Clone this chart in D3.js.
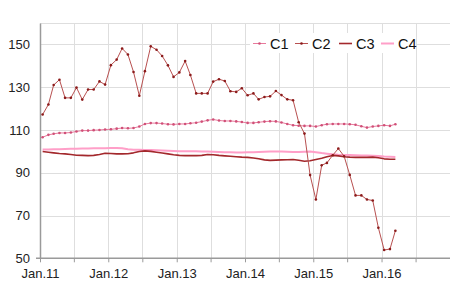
<!DOCTYPE html>
<html>
<head>
<meta charset="utf-8">
<script src="https://cdn.jsdelivr.net/npm/d3@7"></script>
<style>
  body { margin: 0; background: #fff; }
  svg { display: block; font-family: "Liberation Sans", Arial, sans-serif; }
</style>
</head>
<body>
<svg id="viz" width="450" height="291"></svg>
<script>
// monthly series, Jan 2011 .. Mar 2016
const startMonth = new Date(2011, 0, 1);
const c1 = [106.6, 107.7, 108.2, 108.6, 108.6, 108.8, 109.3, 109.7, 109.7, 109.9, 110.0, 110.2,
  110.3, 110.6, 110.9, 110.8, 110.9, 111.6, 112.8, 113.2, 113.2, 113.0, 112.7, 112.6,
  112.8, 112.8, 113.1, 113.4, 113.9, 114.5, 114.9, 114.4, 114.2, 114.2, 114.0, 113.7,
  113.3, 113.3, 113.6, 113.9, 114.1, 114.0, 113.5, 112.8, 112.2, 112.0, 111.9, 111.9,
  111.6, 112.2, 112.7, 112.8, 112.8, 112.8, 112.7, 112.4, 111.7, 111.1, 111.6, 111.9,
  112.2, 111.9, 112.7];
const c2 = [117.2, 121.9, 131.0, 133.5, 125.0, 125.0, 129.8, 124.2, 128.9, 128.9, 132.7, 131.2,
  140.3, 142.9, 148.1, 145.3, 137.1, 126.0, 137.5, 149.1, 147.5, 144.6, 140.2, 134.8,
  136.9, 142.2, 135.7, 127.1, 127.1, 127.1, 132.6, 133.7, 132.9, 128.1, 127.8, 129.5,
  126.2, 127.1, 124.3, 125.4, 125.7, 128.2, 126.3, 124.3, 123.9, 113.6, 108.3, 88.9,
  77.5, 93.5, 94.6, 98.2, 101.3, 97.7, 89.0, 79.4, 79.4, 77.5, 77.0, 64.3,
  53.9, 54.3, 62.9];
const c3 = [99.9, 99.6, 99.3, 99.0, 98.8, 98.5, 98.2, 98.1, 98.0, 98.1, 98.5, 99.1,
  99.0, 98.8, 98.8, 98.9, 99.3, 99.9, 100.2, 100.0, 99.6, 99.2, 98.8, 98.4,
  98.1, 98.0, 98.0, 98.0, 98.1, 98.5, 98.4, 98.1, 97.9, 97.7, 97.5, 97.3,
  97.2, 96.9, 96.5, 96.0, 95.8, 95.9, 96.0, 96.1, 96.2, 95.8, 95.4, 95.6,
  96.2, 96.8, 97.5, 98.1, 97.9, 97.5, 97.3, 97.2, 97.2, 97.2, 97.3, 97.0,
  96.5, 96.3, 96.3];
const c4 = [100.9, 100.9, 101.0, 101.0, 101.1, 101.2, 101.2, 101.3, 101.3, 101.4, 101.5, 101.5,
  101.6, 101.6, 101.4, 101.0, 100.8, 100.7, 100.6, 100.6, 100.5, 100.4, 100.3, 100.2,
  100.1, 100.1, 100.0, 100.0, 99.9, 99.9, 99.8, 99.7, 99.6, 99.6, 99.5, 99.5,
  99.6, 99.6, 99.7, 99.8, 99.9, 99.9, 99.9, 99.8, 99.7, 99.7, 99.8, 99.9,
  99.6, 99.2, 98.9, 98.6, 98.4, 98.3, 98.3, 98.2, 98.1, 98.0, 97.9, 97.8,
  97.6, 97.5, 97.4];
const yTicks = [50, 70, 90, 110, 130, 150];
const seriesNames = ["C1", "C2", "C3", "C4"];

const styles = {
  C1: { line: "#e87a9c", width: 1, dot: "#d05078", r: 1.3 },
  C2: { line: "#b85050", width: 1, dot: "#8b1a1a", r: 1.3 },
  C3: { line: "#a3282c", width: 1.6, dot: null },
  C4: { line: "#ff9fc8", width: 2, dot: null }
};

const svg = d3.select("#viz");
const m = { left: 40, right: 450, top: 23, bottom: 258.3 };

const x = d3.scaleTime().domain([startMonth, new Date(2017, 0, 1)]).range([m.left, m.right]);
const y = d3.scaleLinear().domain([50, 160]).range([m.bottom, m.top]);

const months = c1.map((_, i) => d3.timeDay.offset(d3.timeMonth.offset(startMonth, i), 14));
const data = { C1: c1, C2: c2, C3: c3, C4: c4 };

const halfYears = d3.timeMonth.every(6).range(startMonth, new Date(2017, 0, 1));

// grid
const grid = svg.append("g").attr("stroke", "#dedede").attr("stroke-width", 1);
grid.selectAll("line.h").data(yTicks.concat([160])).join("line")
  .attr("x1", m.left).attr("x2", m.right)
  .attr("y1", d => Math.round(y(d)) + 0.5).attr("y2", d => Math.round(y(d)) + 0.5);
grid.selectAll("line.v").data(halfYears.slice(1)).join("line")
  .attr("y1", m.top).attr("y2", m.bottom)
  .attr("x1", d => Math.round(x(d)) + 0.5).attr("x2", d => Math.round(x(d)) + 0.5);

// axes
const yAxis = svg.append("g").attr("transform", `translate(${m.left},0)`)
  .call(d3.axisLeft(y).tickValues(yTicks).tickSize(0).tickPadding(10));
yAxis.select(".domain").attr("stroke", "#9a9a9a").attr("stroke-width", 1.5);
yAxis.selectAll("text").attr("font-size", 13).attr("fill", "#222");

const xAxis = svg.append("g").attr("transform", `translate(0,${m.bottom})`)
  .call(d3.axisBottom(x).tickValues(halfYears).tickSize(4).tickPadding(6)
    .tickFormat(d => d.getMonth() === 0 ? "Jan." + d3.timeFormat("%y")(d) : ""));
xAxis.select(".domain").attr("stroke", "#9a9a9a").attr("stroke-width", 1.5)
  .attr("d", `M${m.left - 4},0H${m.right}`);
xAxis.selectAll(".tick line").attr("stroke", "#9a9a9a");
xAxis.selectAll("text").attr("font-size", 13).attr("fill", "#222");

// series
const line = d3.line().x((d, i) => x(months[i])).y(d => y(d));
["C4", "C3", "C1", "C2"].forEach(name => {
  const s = styles[name];
  svg.append("path").datum(data[name])
    .attr("fill", "none").attr("stroke", s.line).attr("stroke-width", s.width)
    .attr("stroke-linejoin", "round").attr("d", line);
  if (s.dot) {
    svg.append("g").selectAll("circle").data(data[name]).join("circle")
      .attr("cx", (d, i) => x(months[i])).attr("cy", d => y(d))
      .attr("r", s.r).attr("fill", s.dot);
  }
});

// legend
const lg = svg.append("g");
lg.append("rect").attr("x", 250).attr("y", 33).attr("width", 166).attr("height", 20).attr("fill", "#fff");
const legendX = [253, 295, 339, 381];
seriesNames.forEach((name, i) => {
  const s = styles[name];
  const g = lg.append("g").attr("transform", `translate(${legendX[i]},43.5)`);
  g.append("line").attr("x1", 0).attr("x2", 13).attr("stroke", s.line).attr("stroke-width", s.width);
  if (s.dot) g.append("circle").attr("cx", 6.5).attr("r", s.r).attr("fill", s.dot);
  g.append("text").attr("x", 17).attr("y", 5.5).attr("font-size", 14.5).attr("fill", "#111").text(name);
});
</script>
</body>
</html>
